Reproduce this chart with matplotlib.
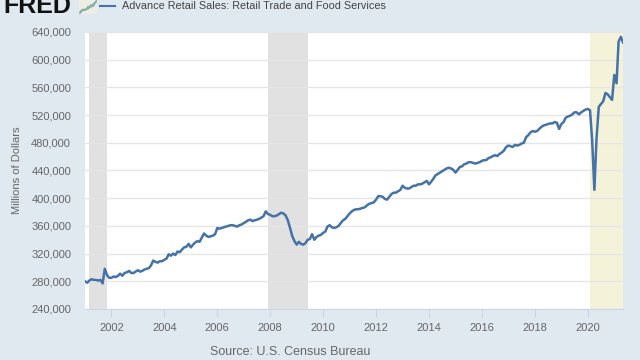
import matplotlib
matplotlib.use("Agg")
import matplotlib.pyplot as plt
import matplotlib.dates as mdates
import matplotlib.ticker as mticker
import numpy as np
import pandas as pd

plt.rcParams['font.family'] = ['Liberation Sans', 'DejaVu Sans']

# monthly retail sales, thousands of millions of dollars
sales_k = [
    280, 278, 281, 283, 282, 282, 281, 282, 277, 298, 289, 285,  # 2001
    285, 287, 286, 288, 291, 288, 292, 293, 295, 292, 292, 294,  # 2002
    296, 294, 295, 297, 298, 299, 303, 310, 308, 307, 309, 309,  # 2003
    311, 313, 319, 317, 320, 318, 323, 322, 326, 329, 330, 334,  # 2004
    329, 333, 336, 338, 337, 343, 349, 346, 344, 345, 346, 348,  # 2005
    357, 356, 357, 358, 359, 360, 361, 361, 360, 359, 361, 362,  # 2006
    364, 366, 368, 369, 367, 368, 369, 370, 372, 374, 381, 377,  # 2007
    376, 374, 374, 375, 377, 379, 378, 375, 368, 357, 345, 338,  # 2008
    333, 337, 334, 333, 335, 340, 341, 348, 340, 344, 346, 347,  # 2009
    350, 352, 359, 361, 358, 357, 358, 360, 364, 368, 370, 374,  # 2010
    378, 381, 383, 384, 384, 385, 386, 387, 390, 392, 393, 394,  # 2011
    398, 403, 403, 402, 399, 398, 402, 406, 408, 408, 410, 412,  # 2012
    418, 415, 414, 414, 416, 418, 418, 420, 420, 421, 423, 425,  # 2013
    420, 424, 428, 433, 435, 437, 439, 441, 443, 444, 443, 441,  # 2014
    437, 441, 445, 446, 449, 450, 452, 452, 451, 450, 451, 452,  # 2015
    454, 455, 455, 458, 459, 461, 462, 461, 464, 466, 469, 474,  # 2016
    476, 475, 474, 477, 476, 477, 479, 480, 488, 491, 495, 497,  # 2017
    496, 497, 500, 503, 505, 506, 507, 508, 508, 510, 509, 500,  # 2018
    507, 510, 516, 518, 519, 521, 524, 524, 521, 524, 526, 528,  # 2019
    529, 527, 484, 412, 487, 532, 536, 540, 552, 550, 546, 542,  # 2020
    578, 566, 626, 633, 625,                                     # 2021
]
dates = pd.date_range("2001-01-01", periods=len(sales_k), freq="MS")
sales = np.array(sales_k) * 1000

recessions = [("2001-03-01", "2001-11-01"), ("2007-12-01", "2009-06-01")]
current_recession = ("2020-02-01", "2021-05-01")

year_ticks = list(range(2002, 2021, 2))
y_ticks = list(range(240000, 640001, 40000))

# little logo sparkline
logo_green = [1, 3, 2, 5, 4, 7, 8]
logo_blue = [0, 2, 3, 3, 6, 5, 9]

bg = "#e1e9f0"
line_c = "#4572a7"
text_c = "#666666"

fig = plt.figure(figsize=(6.4, 3.6), dpi=100, facecolor=bg)
ax = fig.add_axes([85/640, 51/360, 538/640, 277/360])
ax.set_facecolor("white")

for start, end in recessions:
    ax.axvspan(pd.Timestamp(start), pd.Timestamp(end), color="#e1e1e1", lw=0, zorder=0)
ax.axvspan(pd.Timestamp(current_recession[0]), pd.Timestamp(current_recession[1]),
           color="#f4f3da", lw=0, zorder=0)

ax.plot(dates, sales, color=line_c, lw=1.8, zorder=3)

ax.set_xlim(dates[0], dates[-1])
ax.set_ylim(240000, 640000)
ax.set_yticks(y_ticks)
ax.yaxis.set_major_formatter(mticker.FuncFormatter(lambda v, p: f"{int(v):,}"))
ax.set_xticks([pd.Timestamp(f"{y}-01-01") for y in year_ticks])
ax.xaxis.set_major_formatter(mdates.DateFormatter("%Y"))

ax.grid(axis="y", color="#e6e6e6", lw=1)
for s in ["top", "right", "left"]:
    ax.spines[s].set_visible(False)
ax.spines["bottom"].set_color("#ccd6eb")
ax.tick_params(axis="y", length=0, labelsize=8, labelcolor=text_c, pad=10)
ax.tick_params(axis="x", length=6, color="#ccd6eb", labelsize=8, labelcolor=text_c, pad=4)

ax.set_ylabel("Millions of Dollars", fontsize=8, color=text_c)
ax.yaxis.set_label_coords(-0.117, 0.5)

# header
fig.text(3/640, 1 + 6/360, "FRED", fontsize=18, fontweight="bold", color="#111111",
         ha="left", va="top")
logo = fig.add_axes([79/640, 1 - 14/360, 18/640, 14/360])
logo.set_facecolor("#eceee6")
logo.plot(logo_green, color="#8cbf6a", lw=1)
logo.plot(logo_blue, color="#7fa3c9", lw=1)
logo.set_xticks([])
logo.set_yticks([])
for s in logo.spines.values():
    s.set_visible(False)

fig.lines.append(plt.Line2D([100/640, 115/640], [1 - 6/360, 1 - 6/360],
                            color=line_c, lw=1.5, transform=fig.transFigure))
fig.text(122/640, 1 - 6/360, "Advance Retail Sales: Retail Trade and Food Services",
         fontsize=7.8, color="#444444", ha="left", va="center")

fig.text(290/640, 1 - 352/360, "Source: U.S. Census Bureau", fontsize=9,
         color=text_c, ha="center", va="center")

fig.savefig("out.png", dpi=100, facecolor=bg)
